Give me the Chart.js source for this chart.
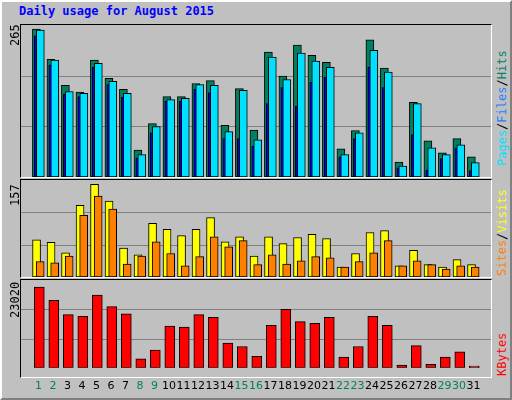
<!DOCTYPE html>
<html><head><meta charset="utf-8">
<script src="https://cdn.jsdelivr.net/npm/chart.js@4"></script>
<style>
body{margin:0;background:#fff}
#wrap{position:absolute;left:0;top:0;width:508px;height:396px;background:#c0c0c0;border-left:2px solid #fff;border-top:2px solid #fff;border-right:2px solid #808080;border-bottom:2px solid #808080;box-sizing:content-box}
.frame{position:absolute;border-top:1px solid #000;border-left:1px solid #000;border-right:1px solid #fff;border-bottom:1px solid #fff}
canvas{position:absolute}
.t{position:absolute;font-family:"DejaVu Sans Mono",monospace;font-size:12px;white-space:nowrap}
.rot{transform-origin:0 0;transform:rotate(-90deg)}
</style></head><body>
<div id="wrap"></div>
<div class="frame" style="left:20px;top:24px;width:470px;height:152px"></div>
<div class="frame" style="left:20px;top:179px;width:470px;height:97px"></div>
<div class="frame" style="left:20px;top:279px;width:470px;height:97px"></div>
<canvas id="c1"></canvas><canvas id="c2"></canvas><canvas id="c3"></canvas>
<div class="t" style="left:19px;top:4px;color:#0000ff;font-weight:bold">Daily usage for August 2015</div>
<div class="t rot" style="left:8px;top:46px">265</div>
<div class="t rot" style="left:8px;top:206px">157</div>
<div class="t rot" style="left:8px;top:318px">23020</div>
<div class="t rot" style="left:495px;top:166px"><span style="color:#00e0ff">Pages</span>/<span style="color:#2080ff">Files</span>/<span style="color:#008060">Hits</span></div>
<div class="t rot" style="left:495px;top:276px"><span style="color:#ff8000">Sites</span>/<span style="color:#ffff00">Visits</span></div>
<div class="t rot" style="left:495px;top:376px;color:#ff0000">KBytes</div>
<script>
const days=[1,2,3,4,5,6,7,8,9,10,11,12,13,14,15,16,17,18,19,20,21,22,23,24,25,26,27,28,29,30,31];
const weekend=[1,2,8,9,15,16,22,23,29,30];
const hits=[258,205,160,148,204,172,153,47,93,140,140,163,168,90,154,82,218,176,230,212,200,49,81,239,190,26,130,63,42,67,35];
const files=[256,204,149,146,198,167,146,39,88,135,137,161,160,79,151,65,209,170,216,202,191,39,77,221,183,19,128,51,39,56,25];
const pages=[246,195,144,140,191,161,139,33,77,132,132,153,147,67,67,54,128,156,123,165,174,35,67,191,156,16,74,12,32,51,11];
const visits=[60,56,39,116,150,123,47,36,87,77,67,77,96,57,65,34,65,54,64,69,62,16,38,72,75,18,43,20,16,28,20];
const sites=[25,23,34,100,131,110,21,34,57,38,18,33,65,49,59,20,36,21,26,33,31,16,25,39,59,18,26,20,13,18,16];
const kbytes=[21160,17670,13950,13490,19070,16040,14180,2330,4650,10930,10700,13950,13250,6510,5580,3020,11160,15350,12090,11630,13250,2790,5580,13490,11160,700,5810,930,2790,4190,470];
const maxTop=265, maxMid=157, maxBot=23020;
const XMIN=0.31, XMAX=31.68;
const grid={id:'g',beforeDatasetsDraw(ch){const y=ch.scales.y,a=ch.chartArea,c=ch.ctx;c.save();c.strokeStyle='#808080';c.lineWidth=1;
 [1,2].forEach(k=>{const p=Math.round(y.getPixelForValue(y.max*k/3))+0.5;c.beginPath();c.moveTo(a.left,p);c.lineTo(a.right,p);c.stroke();});c.restore();}};
function ds(arr,off,color,w,ord){return{data:arr.map((v,i)=>({x:days[i]+off,y:v})),backgroundColor:color,borderColor:'#000',borderWidth:1,borderSkipped:false,barThickness:w,grouped:false,order:ord};}
function mk(id,l,t,w,h,sets,max,showX){
 const cv=document.getElementById(id);cv.width=w;cv.height=h;cv.style.left=l+'px';cv.style.top=t+'px';cv.style.width=w+'px';cv.style.height=h+'px';
 new Chart(cv,{type:'bar',data:{datasets:sets},plugins:[grid],options:{responsive:false,animation:false,devicePixelRatio:1,
  layout:{padding:0},plugins:{legend:{display:false},tooltip:{enabled:false}},
  scales:{x:{type:'linear',min:XMIN,max:XMAX,display:showX,grid:{display:false},border:{display:false},
   afterBuildTicks:s=>{s.ticks=days.map(v=>({value:v}));},
   ticks:{autoSkip:false,maxRotation:0,padding:4,font:{family:'DejaVu Sans',size:11},color:c=>weekend.includes(c.tick&&c.tick.value)?'#008060':'#000',callback:v=>String(v)}},
   y:{min:0,max:max,display:false}}}});
}
mk('c1',21,25,470,152,[ds(hits,-0.15,'#008060',8,3),ds(pages,-0.02,'#0000ff',8,2),ds(files,0.12,'#00e0ff',8,1)],maxTop,false);
mk('c2',21,180,470,97,[ds(visits,-0.14,'#ffff00',8,2),ds(sites,0.11,'#ff8000',8,1)],maxMid,false);
mk('c3',21,280,470,117,[ds(kbytes,0.05,'#ff0000',10,1)],maxBot,true);
</script></body></html>
